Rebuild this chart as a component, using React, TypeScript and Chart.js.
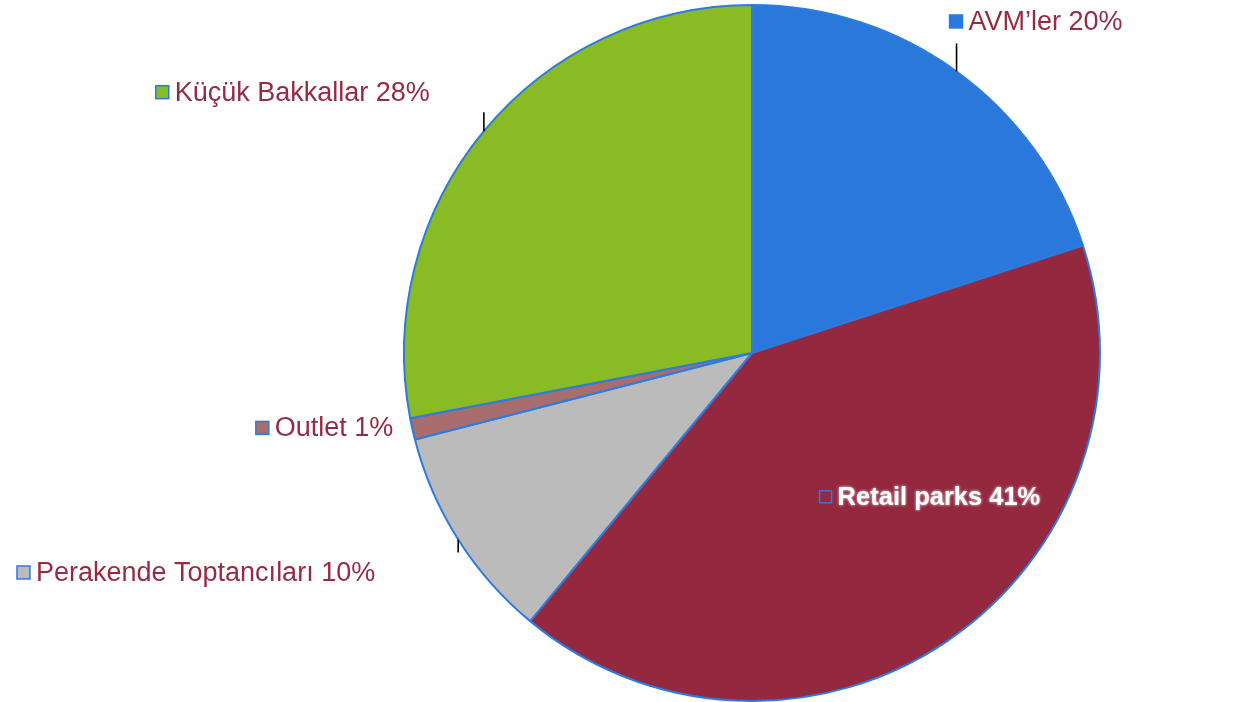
import React, { useEffect, useRef } from "react";
import { Chart, registerables } from "chart.js";

Chart.register(...registerables);

const categories = ["AVM’ler", "Retail parks", "Perakende Toptancıları", "Outlet", "Küçük Bakkallar"];
const shares = [20, 41, 10, 1, 28];
const sliceColors = ["#2A78DC", "#93283E", "#BBBBBB", "#A86D6D", "#89BB24"];

// label layout relative to each slice's outer mid-point
const labelLayout = [
  { dx: -7, dy: -50, tick: -28, anchor: "left", inside: false },
  { dx: -128, dy: -144, tick: 0, anchor: "left", inside: true },
  { dx: -83, dy: 33, tick: 13, anchor: "right", inside: false },
  { dx: -19, dy: -1, tick: 0, anchor: "right", inside: false },
  { dx: -54, dy: -39, tick: -19, anchor: "right", inside: false },
];

const labelPlugin = {
  id: "sliceLabels",
  afterDatasetsDraw(chart: any) {
    const ctx = chart.ctx;
    const meta = chart.getDatasetMeta(0);
    meta.data.forEach((arc: any, i: number) => {
      const { x, y, startAngle, endAngle, outerRadius } = arc.getProps(
        ["x", "y", "startAngle", "endAngle", "outerRadius"],
        true
      );
      const mid = (startAngle + endAngle) / 2;
      const mx = x + Math.cos(mid) * outerRadius;
      const my = y + Math.sin(mid) * outerRadius;
      const lay = labelLayout[i];
      ctx.save();
      if (lay.tick !== 0) {
        ctx.strokeStyle = "#000";
        ctx.lineWidth = 1.6;
        ctx.beginPath();
        ctx.moveTo(mx, my);
        ctx.lineTo(mx, my + lay.tick);
        ctx.stroke();
      }
      const text = `${categories[i]} ${shares[i]}%`;
      ctx.font = lay.inside ? "bold 25.5px 'Liberation Sans', Arial, sans-serif" : "27px 'Liberation Sans', Arial, sans-serif";
      const tw = ctx.measureText(text).width;
      const sq = lay.inside ? 12 : 13;
      const gap = 6;
      const ax = mx + lay.dx;
      const ay = my + lay.dy;
      let sqX: number;
      let textX: number;
      if (lay.anchor === "left") {
        sqX = ax;
        textX = ax + sq + gap;
      } else {
        textX = ax - tw;
        sqX = textX - gap - sq;
      }
      ctx.lineWidth = 1.5;
      ctx.strokeStyle = "#2E7BE0";
      if (!lay.inside) {
        ctx.fillStyle = sliceColors[i];
        ctx.fillRect(sqX, ay - sq / 2, sq, sq);
      }
      ctx.strokeRect(sqX, ay - sq / 2, sq, sq);
      ctx.textAlign = "left";
      ctx.textBaseline = "middle";
      if (lay.inside) {
        ctx.shadowColor = "rgba(255,255,255,0.9)";
        ctx.shadowBlur = 3;
        ctx.fillStyle = "#FFFFFF";
      } else {
        ctx.fillStyle = "#972B43";
      }
      ctx.fillText(text, textX, ay + 1);
      ctx.restore();
    });
  },
};

export default function App() {
  const ref = useRef<HTMLCanvasElement>(null);
  useEffect(() => {
    if (!ref.current) return;
    const chart = new Chart(ref.current, {
      type: "pie",
      data: {
        labels: categories,
        datasets: [
          {
            data: shares,
            backgroundColor: sliceColors,
            borderColor: "#2E7BE0",
            borderWidth: 2,
          },
        ],
      },
      options: {
        animation: false,
        responsive: false,
        layout: { padding: { left: 260, right: 0, top: 4, bottom: 0 } },
        plugins: {
          legend: { display: false },
          tooltip: { enabled: false },
        },
      },
      plugins: [labelPlugin],
    });
    return () => chart.destroy();
  }, []);
  return (
    <div style={{ position: "absolute", left: 0, top: 0, width: 1244, height: 702, background: "#fff" }}>
      <canvas ref={ref} width={1244} height={702} style={{ width: 1244, height: 702 }} />
    </div>
  );
}
